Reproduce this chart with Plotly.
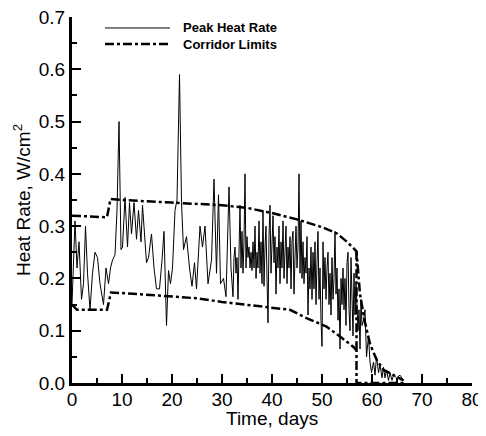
import plotly.graph_objects as go

# Peak heat rate
heat_t = [0.0, 0.3, 0.6, 1.0, 1.4, 1.9, 2.3, 2.7, 3.1, 3.6, 4.1, 4.6, 5.1, 5.6, 6.3, 6.8, 7.3, 7.7,
          8.1, 8.6, 9.0, 9.4, 9.8, 10.1, 10.6, 11.1, 11.5, 11.9, 12.4, 12.9, 13.3, 13.8, 14.1, 14.9,
          15.3, 15.9, 16.4, 16.9, 17.5, 18.0, 18.4, 18.9, 19.3, 19.7, 20.1, 20.6, 21.0, 21.5, 21.9,
          22.3, 22.9, 23.5, 24.0, 24.5, 24.9, 25.6, 26.1, 26.6, 27.2, 27.9, 28.4, 28.9, 29.3, 29.7,
          30.3, 30.8, 31.4, 31.8,
          32.0, 32.2, 32.4, 32.6, 32.8, 33.0, 33.2, 33.4, 33.6, 33.8, 34.0, 34.2, 34.4, 34.6, 34.8,
          35.0, 35.2, 35.4, 35.6, 35.8, 36.0, 36.2, 36.4, 36.6, 36.8, 37.0, 37.2, 37.4, 37.6, 37.8,
          38.0, 38.2, 38.4, 38.6, 38.8, 39.0, 39.2, 39.4, 39.6, 39.8, 40.0, 40.2, 40.4, 40.6, 40.8,
          41.0, 41.2, 41.4, 41.6, 41.8, 42.0, 42.2, 42.4, 42.6, 42.8, 43.0, 43.2, 43.4, 43.6, 43.8,
          44.0, 44.2, 44.4, 44.6, 44.8, 45.0, 45.2, 45.4, 45.6, 45.8, 46.0, 46.2, 46.4, 46.6, 46.8,
          47.0, 47.2, 47.4, 47.6, 47.8, 48.0, 48.2, 48.4, 48.6, 48.8, 49.0, 49.2, 49.4, 49.6, 49.8,
          50.0, 50.2, 50.4, 50.6, 50.8, 51.0, 51.2, 51.4, 51.6, 51.8, 52.0, 52.2, 52.4, 52.6, 52.8,
          53.0, 53.2, 53.4, 53.6, 53.8, 54.0, 54.2, 54.4, 54.6, 54.8, 55.0, 55.2, 55.4, 55.6, 55.8,
          56.0, 56.2, 56.4, 56.6, 56.8, 57.0, 57.2, 57.4, 57.6, 57.8, 58.0,
          58.3, 58.6, 58.9, 59.3, 59.6, 59.9, 60.3,
          60.6, 60.9, 61.3, 61.6, 62.0, 62.3, 62.6, 62.9, 63.3, 63.6, 64.0, 64.3, 64.9, 65.6, 66.3]
heat_v = [0.15, 0.25, 0.31, 0.22, 0.27, 0.16, 0.19, 0.30, 0.21, 0.14, 0.21, 0.25, 0.24, 0.19, 0.15, 0.22, 0.19, 0.22,
          0.235, 0.245, 0.33, 0.50, 0.255, 0.26, 0.355, 0.26, 0.345, 0.285, 0.345, 0.275, 0.33, 0.27, 0.34, 0.23,
          0.24, 0.285, 0.22, 0.18, 0.18, 0.235, 0.29, 0.11, 0.215, 0.19, 0.22, 0.33, 0.35, 0.59, 0.345,
          0.255, 0.28, 0.22, 0.185, 0.23, 0.18, 0.30, 0.26, 0.30, 0.19, 0.235, 0.39, 0.21, 0.36, 0.19,
          0.20, 0.165, 0.375, 0.22,
          0.20, 0.165, 0.24, 0.26, 0.21, 0.24, 0.16, 0.28, 0.34, 0.22, 0.29, 0.21, 0.27, 0.40, 0.22,
          0.28, 0.24, 0.26, 0.22, 0.25, 0.215, 0.27, 0.22, 0.30, 0.20, 0.25, 0.22, 0.31, 0.21, 0.27,
          0.19, 0.33, 0.185, 0.26, 0.30, 0.20, 0.115, 0.28, 0.34, 0.21, 0.27, 0.32, 0.23, 0.28, 0.17,
          0.26, 0.22, 0.30, 0.19, 0.27, 0.22, 0.31, 0.20, 0.25, 0.30, 0.19, 0.26, 0.22, 0.28, 0.18,
          0.27, 0.29, 0.17, 0.24, 0.30, 0.22, 0.26, 0.40, 0.21, 0.31, 0.20, 0.27, 0.19, 0.24, 0.21,
          0.28, 0.13, 0.22, 0.18, 0.26, 0.16, 0.25, 0.18, 0.27, 0.15, 0.23, 0.29, 0.16, 0.22, 0.12,
          0.07, 0.27, 0.18, 0.24, 0.16, 0.22, 0.25, 0.15, 0.21, 0.13, 0.24, 0.16, 0.20, 0.29, 0.17,
          0.22, 0.12, 0.18, 0.065, 0.20, 0.15, 0.22, 0.14, 0.20, 0.11, 0.23, 0.25, 0.14, 0.10, 0.24,
          0.15, 0.09, 0.21, 0.13, 0.19, 0.15, 0.10, 0.14, 0.065, 0.16, 0.11,
          0.12, 0.14, 0.05, 0.09, 0.04, 0.02, 0.04,
          0.015, 0.05, 0.02, 0.035, 0.01, 0.03, 0.01, 0.025, 0.005, 0.02, 0.005, 0.015, 0.01, 0.015, 0.005]

# Corridor limits
upper_t = [0, 7.0, 7.7, 10, 20, 30, 35, 40, 45, 50, 53, 55, 56.9, 57.6, 58.5, 59.6, 60.9, 62.3, 64.9, 66.3]
upper_v = [0.32, 0.317, 0.352, 0.35, 0.345, 0.34, 0.335, 0.325, 0.313, 0.298, 0.286, 0.27, 0.252,
           0.17, 0.12, 0.075, 0.045, 0.025, 0.012, 0.005]
lower_t = [0, 1.0, 7.0, 7.8, 10, 20, 25, 30, 35, 40, 43.6, 46.9, 50.9, 53.6, 56.3, 56.9, 56.9, 66.3]
lower_v = [0.15, 0.14, 0.14, 0.173, 0.172, 0.166, 0.162, 0.155, 0.15, 0.145, 0.14, 0.124, 0.108,
           0.089, 0.069, 0.062, 0.0, 0.0]
cutoff_t = [56.9, 56.9]
cutoff_v = [0.252, 0.062]

legend_labels = ["Peak Heat Rate", "Corridor Limits"]

FONT = "Liberation Sans, Arial, sans-serif"

fig = go.Figure()
fig.add_trace(go.Scatter(x=heat_t, y=heat_v, mode="lines", line=dict(color="black", width=1),
                         showlegend=False))
for tt, vv in [(upper_t, upper_v), (lower_t, lower_v), (cutoff_t, cutoff_v)]:
    fig.add_trace(go.Scatter(x=tt, y=vv, mode="lines",
                             line=dict(color="black", width=2.5, dash="dashdot"), showlegend=False))

# manual legend
leg_y = [0.970, 0.926]
leg_w = [1, 2.5]
leg_d = ["solid", "dashdot"]
for i, lab in enumerate(legend_labels):
    fig.add_shape(type="line", xref="paper", yref="paper", x0=0.0825, x1=0.245, y0=leg_y[i], y1=leg_y[i],
                  line=dict(color="black", width=leg_w[i], dash=leg_d[i]))
    fig.add_annotation(xref="paper", yref="paper", x=0.272, y=leg_y[i], text="<b>" + lab + "</b>",
                       showarrow=False, xanchor="left", yanchor="middle",
                       font=dict(family=FONT, size=13, color="black"))

# axis titles
fig.add_annotation(xref="paper", yref="paper", x=0.5, y=0, yshift=-35, text="Time, days",
                   showarrow=False, xanchor="center", yanchor="middle",
                   font=dict(family=FONT, size=19, color="black"))
fig.add_annotation(xref="paper", yref="paper", x=0, y=0.5, xshift=-50, text="Heat Rate, W/cm<sup>2</sup>",
                   showarrow=False, xanchor="center", yanchor="middle", textangle=-90,
                   font=dict(family=FONT, size=19, color="black"))

axis_common = dict(showline=True, linecolor="black", linewidth=3, ticks="inside", ticklen=9,
                   tickwidth=2, tickcolor="black", showgrid=False, zeroline=False, mirror=False,
                   automargin=False, ticklabeloverflow="allow",
                   tickfont=dict(family=FONT, size=19, color="black"))

fig.update_xaxes(range=[0, 80], dtick=10, tick0=0, ticklabelstandoff=-3,
                 minor=dict(ticks="inside", ticklen=5, dtick=5, tickwidth=1.5, tickcolor="black"),
                 **axis_common)
fig.update_yaxes(range=[0, 0.7], dtick=0.1, tick0=0, tickformat=".1f",
                 minor=dict(ticks="inside", ticklen=5, dtick=0.05, tickwidth=1.5, tickcolor="black"),
                 **axis_common)

fig.update_layout(width=478, height=428, margin=dict(l=64, r=14, t=9, b=53),
                  plot_bgcolor="white", paper_bgcolor="white", showlegend=False)

fig.write_html("out.html")
